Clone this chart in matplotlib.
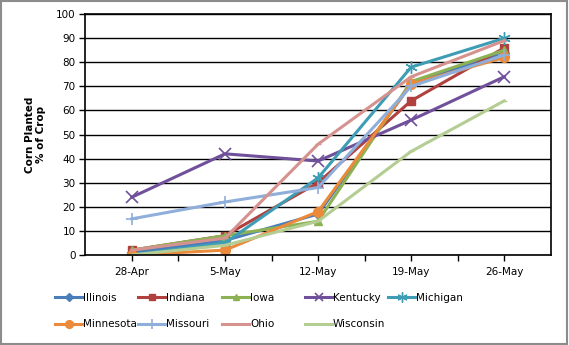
import matplotlib.pyplot as plt
from matplotlib.patches import Rectangle

# weekly corn planting progress by state
weeks = ["28-Apr", "5-May", "12-May", "19-May", "26-May"]
illinois = [1, 6, 17, 71, 84]
indiana = [2, 8, 30, 64, 86]
iowa = [2, 8, 14, 72, 85]
kentucky = [24, 42, 39, 56, 74]
michigan = [0, 5, 32, 78, 90]
minnesota = [0, 2, 18, 71, 82]
missouri = [15, 22, 28, 70, 83]
ohio = [2, 7, 46, 74, 89]
wisconsin = [0, 4, 14, 43, 64]

series = [
    ("Illinois", illinois, "#4A7EBB", "D", 5),
    ("Indiana", indiana, "#B0413E", "s", 6),
    ("Iowa", iowa, "#8DB254", "^", 6),
    ("Kentucky", kentucky, "#70509A", "x", 8),
    ("Michigan", michigan, "#3E9DB5", (6, 2, 0), 9),
    ("Minnesota", minnesota, "#EB8A3A", "o", 7),
    ("Missouri", missouri, "#8FAEDA", "+", 9),
    ("Ohio", ohio, "#D5928F", "_", 5),
    ("Wisconsin", wisconsin, "#B4CD93", "_", 5),
]

plt.rcParams["font.family"] = ["DejaVu Sans"]
fig = plt.figure(figsize=(5.69, 3.45), dpi=100)
fig.patches.append(Rectangle((0.002, 0.003), 0.994, 0.994, transform=fig.transFigure,
                             fill=False, edgecolor="#8c8c8c", linewidth=1.5))
ax = fig.add_axes([0.150, 0.261, 0.818, 0.698])

x = list(range(len(weeks)))
lines = []
for name, vals, color, mk, ms in series:
    ln, = ax.plot(x, vals, color=color, linewidth=2.2, marker=mk, markersize=ms,
                  markeredgewidth=1.2 if mk in ("x", "+") else 1,
                  markeredgecolor=color, markerfacecolor=color, label=name)
    lines.append(ln)

ax.set_xlim(-0.5, len(weeks) - 0.5)
ax.set_ylim(0, 100)
ax.set_yticks(range(0, 101, 10))
ax.yaxis.grid(True, color="black", linewidth=1)
ax.set_axisbelow(True)
ax.set_xticks(x)
ax.set_xticklabels(weeks, fontsize=7.5)
ax.set_xticks([i + 0.5 for i in x[:-1]], minor=True)
ax.tick_params(axis="x", which="both", length=4, width=1, pad=5)
ax.tick_params(axis="y", length=4, width=1, labelsize=7.5, pad=3)
for s in ax.spines.values():
    s.set_linewidth(1.2)

ax.set_ylabel("Corn Planted\n% of Crop", fontsize=7.5, fontweight="bold", labelpad=7,
              linespacing=1.1)

# legend laid out row-wise in fixed-width columns
col_x = [55, 138, 222, 305, 388]
for c, left in enumerate(col_x):
    handles = [lines[c]] + ([lines[c + 5]] if c + 5 < len(lines) else [])
    fig.legend(handles=handles, loc="upper left",
               bbox_to_anchor=(left / 569, 1 - 293 / 345), frameon=False,
               fontsize=7.5, handlelength=2.6, handletextpad=0.1, markerscale=0.8,
               labelspacing=1.55, borderaxespad=0, borderpad=0)

fig.savefig("out.png", dpi=100)
